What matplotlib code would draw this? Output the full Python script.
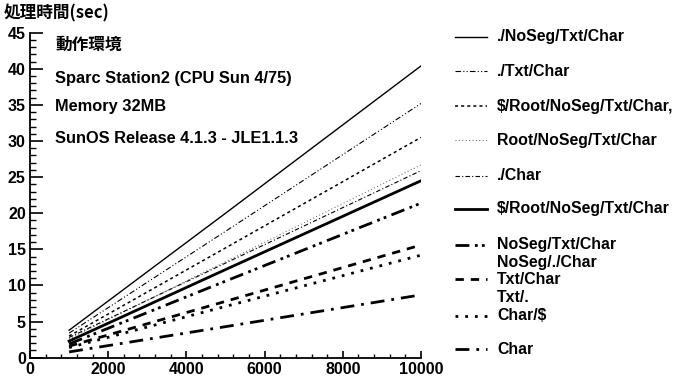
import matplotlib
matplotlib.use("Agg")
import matplotlib.pyplot as plt
from matplotlib.ticker import MultipleLocator

# data (x = number of records, y = seconds)
x_vals = [1000, 5000, 10000]
noseg_txt_char = [3.8, 20.0, 40.4]
txt_char_dot = [3.4, 17.5, 35.2]
root_dollar_dotted = [3.0, 15.2, 30.5]
root_noseg = [2.6, 13.3, 26.7]
dot_char = [2.8, 13.1, 25.9]
root_dollar_solid = [2.3, 12.2, 24.5]
noseg_txt = [1.9, 10.6, 21.4]
txt_char = [1.6, 7.8, 15.6]
char_dollar = [1.4, 7.1, 14.2]
char_only = [0.8, 4.3, 8.7]

series_names = ["./NoSeg/Txt/Char", "./Txt/Char", "$/Root/NoSeg/Txt/Char,",
                "Root/NoSeg/Txt/Char", "./Char", "$/Root/NoSeg/Txt/Char",
                "NoSeg/Txt/Char", "Txt/Char", "Char/$", "Char"]
series_vals = [noseg_txt_char, txt_char_dot, root_dollar_dotted, root_noseg, dot_char,
               root_dollar_solid, noseg_txt, txt_char, char_dollar, char_only]

styles = [
    dict(ls="-", lw=1.0, color="black"),
    dict(ls=(0, (5, 2, 1, 2, 1, 2)), lw=0.8, color="black"),
    dict(ls=(0, (2, 2)), lw=1.1, color="black"),
    dict(ls=(0, (1, 2.5)), lw=0.7, color="#555555"),
    dict(ls=(0, (4, 2, 1, 2)), lw=0.8, color="black"),
    dict(ls="-", lw=2.0, color="black"),
    dict(ls=(0, (5, 2, 1, 1.5, 1, 2)), lw=2.0, color="black"),
    dict(ls=(0, (3, 2.5)), lw=2.0, color="black"),
    dict(ls=(0, (1, 2.5)), lw=2.0, color="black"),
    dict(ls=(0, (5, 2.5, 1, 2.5)), lw=2.0, color="black"),
]

W, H = 675, 379
fig = plt.figure(figsize=(6.75, 3.79), dpi=100)
ax = fig.add_axes([30 / W, (H - 357.7) / H, (421 - 30) / W, (357.7 - 32.7) / H])

for vals, st in zip(series_vals, styles):
    ax.plot(x_vals, vals, linestyle=st["ls"], lw=st["lw"], color=st["color"])

ax.set_xlim(0, 10000)
ax.set_ylim(0, 45)
ax.spines["top"].set_visible(False)
ax.spines["right"].set_visible(False)
ax.spines["left"].set_linewidth(1.3)
ax.spines["bottom"].set_linewidth(1.3)
ax.xaxis.set_major_locator(MultipleLocator(2000))
ax.xaxis.set_minor_locator(MultipleLocator(400))
ax.yaxis.set_major_locator(MultipleLocator(5))
ax.yaxis.set_minor_locator(MultipleLocator(1))
ax.tick_params(axis="y", which="major", direction="in", length=9, width=1.2, pad=3)
ax.tick_params(axis="y", which="minor", direction="in", length=4, width=1.0)
ax.tick_params(axis="x", which="major", direction="in", length=5, width=1.2, pad=3)
ax.tick_params(axis="x", which="minor", direction="in", length=3, width=1.0)
for lab in ax.get_xticklabels() + ax.get_yticklabels():
    lab.set_fontsize(11.5)
    lab.set_fontweight("bold")
    lab.set_family("Liberation Sans")

font_mix = ["Liberation Sans", "Noto Sans CJK JP"]
fs = 11.8
leg_fs = 11.4
fig.text(4 / W, 1 - 13 / H, "処理時間(sec)", fontsize=12, fontweight="bold",
         family=["Noto Sans CJK JP", "DejaVu Sans"], va="center")
fig.text(55 / W, 1 - 45 / H, "動作環境", fontsize=12, fontweight="bold",
         family=["Noto Sans CJK JP", "DejaVu Sans"], va="center")
notes = ["Sparc Station2 (CPU Sun 4/75)", "Memory 32MB", "SunOS Release 4.1.3 - JLE1.1.3"]
note_y = [79, 107, 139]
for t, y in zip(notes, note_y):
    fig.text(55 / W, 1 - y / H, t, fontsize=fs, fontweight="bold", family=font_mix, va="center")

# legend drawn by hand (irregular spacing in the original)
leg = fig.add_axes([0, 0, 1, 1])
leg.set_xlim(0, W)
leg.set_ylim(H, 0)
leg.axis("off")
row_y = [37, 71, 106, 140, 176, 209, 245, 279, 316, 349]
for name, st, y in zip(series_names, styles, row_y):
    leg.plot([455, 487], [y, y], linestyle=st["ls"], lw=st["lw"], color=st["color"])
    leg.text(497, y, name, fontsize=leg_fs, fontweight="bold", family=font_mix, va="center")
leg.text(497, 262, "NoSeg/./Char", fontsize=leg_fs, fontweight="bold", family=font_mix, va="center")
leg.text(497, 297, "Txt/.", fontsize=leg_fs, fontweight="bold", family=font_mix, va="center")

fig.savefig("out.png", dpi=100)
